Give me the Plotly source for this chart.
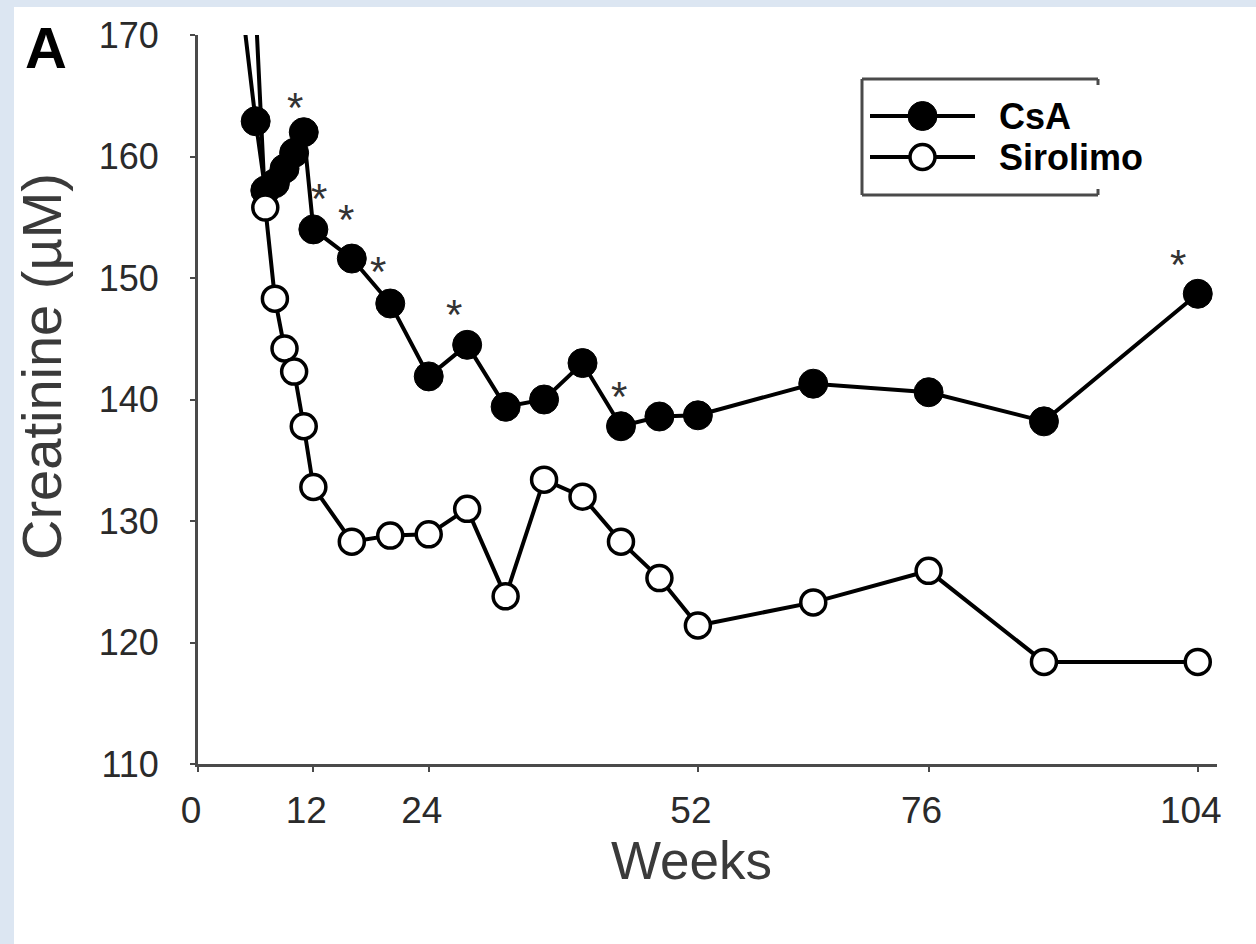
import plotly.graph_objects as go

# ---------------- data ----------------
weeks_csa = [4, 6, 7, 8, 9, 10, 11, 12, 16, 20, 24, 28, 32, 36, 40, 44, 48, 52, 64, 76, 88, 104]
csa = [176.3, 162.9, 157.2, 157.8, 159.0, 160.3, 162.0, 154.0, 151.6, 147.9, 141.9, 144.5,
       139.4, 140.0, 143.0, 137.8, 138.6, 138.7, 141.3, 140.6, 138.2, 148.7]

weeks_sir = [4, 7, 8, 9, 10, 11, 12, 16, 20, 24, 28, 32, 36, 40, 44, 48, 52, 64, 76, 88, 104]
sir = [205.0, 155.8, 148.3, 144.2, 142.3, 137.8, 132.8, 128.3, 128.8, 128.9, 131.0, 123.8,
       133.4, 132.0, 128.3, 125.3, 121.4, 123.3, 125.9, 118.4, 118.4]

# significance stars on the CsA series
star_weeks = [11, 12, 16, 20, 28, 44, 104]

x_ticks = [0, 12, 24, 52, 76, 104]
y_ticks = [110, 120, 130, 140, 150, 160, 170]
series_names = ["CsA", "Sirolimo"]

# ---------------- layout geometry ----------------
W, H = 1256, 944
ML, MR, MT, MB = 198, 39, 35, 180
X0, X1 = ML, W - MR
Y0, Y1 = MT, H - MB
FONT = "Arial, Liberation Sans, sans-serif"
BLUE = "#dce6f2"
AX = "#4a4a4a"

# star offsets (pixels) relative to their data point: (dx, dy up)
star_dx = [-9, 6, -6, -12, -13, -2, -20]
star_dy = [34, 40, 48, 41, 39, 39, 38]


def pxx(px):
    return (px - ML) / (W - ML - MR)


def pxy(py):
    return (H - MB - py) / (H - MT - MB)


fig = go.Figure()

fig.add_trace(go.Scatter(
    x=weeks_csa, y=csa, mode="lines+markers", name=series_names[0],
    line=dict(color="black", width=4),
    marker=dict(size=29, color="black", line=dict(color="black", width=1)),
    cliponaxis=True, showlegend=False))

fig.add_trace(go.Scatter(
    x=weeks_sir, y=sir, mode="lines+markers", name=series_names[1],
    line=dict(color="black", width=4),
    marker=dict(size=25, color="white", line=dict(color="black", width=3.5)),
    cliponaxis=True, showlegend=False))

# ---------------- manual legend on a pixel overlay axis ----------------
leg_y = [116, 157]
for i, nm in enumerate(series_names):
    fig.add_trace(go.Scatter(
        x=[870, 975], y=[leg_y[i], leg_y[i]], mode="lines",
        line=dict(color="black", width=4), xaxis="x2", yaxis="y2",
        showlegend=False, hoverinfo="skip", cliponaxis=False))
    if i == 0:
        mk = dict(size=29, color="black", line=dict(color="black", width=1))
    else:
        mk = dict(size=25, color="white", line=dict(color="black", width=3.5))
    fig.add_trace(go.Scatter(
        x=[922.5], y=[leg_y[i]], mode="markers", marker=mk,
        xaxis="x2", yaxis="y2", showlegend=False, hoverinfo="skip", cliponaxis=False))

annotations = []
for i, nm in enumerate(series_names):
    annotations.append(dict(
        x=997, y=leg_y[i], xref="x2", yref="y2", text=f"<b>{nm}</b>",
        showarrow=False, xanchor="left", yanchor="middle",
        font=dict(family=FONT, size=36, color="black")))

# stars
for w, dx, dy in zip(star_weeks, star_dx, star_dy):
    v = csa[weeks_csa.index(w)]
    annotations.append(dict(
        x=w, y=v, xref="x", yref="y", text="*", showarrow=False,
        xanchor="center", yanchor="middle", xshift=dx, yshift=dy - 9,
        font=dict(family=FONT, size=42, color="#333")))

# axis titles and panel letter
annotations.append(dict(
    x=pxx(691), y=pxy(860), xref="paper", yref="paper", text="Weeks",
    showarrow=False, xanchor="center", yanchor="middle",
    font=dict(family=FONT, size=53, color="#3a3a3a")))
annotations.append(dict(
    x=pxx(41), y=pxy(367), xref="paper", yref="paper", text="Creatinine (µM)",
    showarrow=False, xanchor="center", yanchor="middle", textangle=-90,
    font=dict(family=FONT, size=56, color="#3a3a3a")))
annotations.append(dict(
    x=pxx(46), y=pxy(47), xref="paper", yref="paper", text="<b>A</b>",
    showarrow=False, xanchor="center", yanchor="middle",
    font=dict(family=FONT, size=58, color="black")))

# ---------------- shapes ----------------
shapes = [
    # blue frame strips (left and top)
    dict(type="rect", xref="paper", yref="paper", x0=pxx(0), x1=pxx(14), y0=pxy(H), y1=pxy(0),
         fillcolor=BLUE, line=dict(width=0), layer="below"),
    dict(type="rect", xref="paper", yref="paper", x0=pxx(0), x1=pxx(W), y0=pxy(7), y1=pxy(0),
         fillcolor=BLUE, line=dict(width=0), layer="below"),
]
box = dict(color=AX, width=3)
for seg in [((862, 79), (862, 195)), ((862, 79), (1098, 79)), ((862, 195), (1098, 195)),
            ((1098, 79), (1098, 85)), ((1098, 189), (1098, 195))]:
    (xa, ya), (xb, yb) = seg
    shapes.append(dict(type="line", xref="x2", yref="y2", x0=xa, y0=ya, x1=xb, y1=yb, line=box))

fig.update_layout(
    width=W, height=H,
    margin=dict(l=ML, r=MR, t=MT, b=MB, pad=0),
    paper_bgcolor="white", plot_bgcolor="white",
    font=dict(family=FONT, color="#222"),
    xaxis=dict(range=[0, 106], tickvals=x_ticks, ticktext=[str(t) for t in x_ticks],
               showgrid=False, zeroline=False, showline=True, linecolor=AX, linewidth=3,
               ticks="outside", ticklen=5, tickwidth=2, tickcolor=AX,
               tickfont=dict(family=FONT, size=37, color="#2a2a2a"),
               ticklabelstandoff=7, ticklabelshift=-7),
    yaxis=dict(range=[110, 170], tickvals=y_ticks, showgrid=False, zeroline=False,
               showline=True, linecolor=AX, linewidth=3,
               ticks="outside", ticklen=5, tickwidth=2, tickcolor=AX,
               tickfont=dict(family=FONT, size=36, color="#2a2a2a"),
               ticklabelstandoff=24),
    xaxis2=dict(range=[X0, X1], overlaying="x", visible=False, fixedrange=True),
    yaxis2=dict(range=[Y1, Y0], overlaying="y", visible=False, fixedrange=True),
    annotations=annotations,
    shapes=shapes,
    showlegend=False,
)

fig.write_html(
    "out.html",
    config={"displayModeBar": False},
    post_script="document.body.style.margin='0';document.body.style.overflow='hidden';",
)
